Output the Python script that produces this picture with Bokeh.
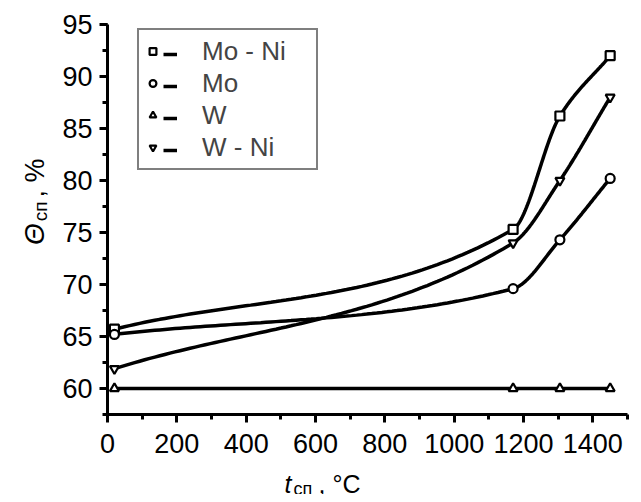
import numpy as np
from bokeh.plotting import figure
from bokeh.models import Range1d, Legend, LegendItem, SingleIntervalTicker
from bokeh.layouts import row, column
from bokeh.core.properties import value
from bokeh.embed import file_html
from bokeh.resources import INLINE

# data
temps = [20, 1170, 1305, 1450]
mo_ni = [65.7, 75.3, 86.2, 92.0]
mo = [65.2, 69.6, 74.3, 80.2]
w = [60.0, 60.0, 60.0, 60.0]
w_ni = [61.9, 74.0, 80.0, 88.0]
series_names = ["Mo - Ni", "Mo", "W", "W - Ni"]
markers = ["square", "circle", "triangle", "inverted_triangle"]

X0, X1, Y0, Y1 = 0, 1500, 57.5, 95


def smooth_curve(xs, ys, n=80):
    """Cubic Hermite curve through the points (PCHIP-style slopes)."""
    x = np.asarray(xs, float)
    y = np.asarray(ys, float)
    h = np.diff(x)
    dl = np.diff(y) / h
    m = len(x)
    d = np.zeros(m)
    for i in range(1, m - 1):
        if dl[i - 1] * dl[i] > 0:
            w1 = 2 * h[i] + h[i - 1]
            w2 = h[i] + 2 * h[i - 1]
            d[i] = (w1 + w2) / (w1 / dl[i - 1] + w2 / dl[i])
    d[0] = dl[0]
    d[-1] = dl[-1]
    xx_all, yy_all = [x[0]], [y[0]]
    t = np.linspace(0, 1, n)[1:]
    for i in range(m - 1):
        h00 = 2 * t**3 - 3 * t**2 + 1
        h10 = t**3 - 2 * t**2 + t
        h01 = -2 * t**3 + 3 * t**2
        h11 = t**3 - t**2
        yy = h00 * y[i] + h10 * h[i] * d[i] + h01 * y[i + 1] + h11 * h[i] * d[i + 1]
        xx_all.extend(x[i] + t * h[i])
        yy_all.extend(yy)
    return np.array(xx_all), np.array(yy_all)


FONT = "Liberation Sans"
LEFT_W = 50   # width of the y-title strip
TOP_H = 460   # height of the main row
TOTAL_W, TOTAL_H = 633, 494

p = figure(width=TOTAL_W - LEFT_W, height=TOP_H, output_backend="svg",
           toolbar_location=None, title=None,
           x_range=Range1d(X0, X1), y_range=Range1d(Y0, Y1))
p.min_border_left = 107 - LEFT_W
p.min_border_top = 24
p.min_border_bottom = 46
p.min_border_right = 6
p.outline_line_color = None
p.xgrid.visible = False
p.ygrid.visible = False

for ax in (p.xaxis[0], p.yaxis[0]):
    ax.axis_line_width = 3
    ax.axis_line_color = "black"
    ax.major_tick_line_width = 3
    ax.minor_tick_line_width = 3
    ax.major_tick_in = 0
    ax.major_tick_out = 8
    ax.minor_tick_in = 0
    ax.minor_tick_out = 5
    ax.major_label_text_font = FONT
    ax.major_label_text_font_size = "27px"
    ax.major_label_text_color = "black"
p.xaxis[0].major_label_standoff = 11
p.yaxis[0].major_label_standoff = 7

p.xaxis[0].ticker = SingleIntervalTicker(interval=200, num_minor_ticks=2)
p.yaxis[0].ticker = SingleIntervalTicker(interval=5, num_minor_ticks=2)

items_mk = []
items_ln = []
for name, mk, ys in zip(series_names, markers, [mo_ni, mo, w, w_ni]):
    xx, yy = smooth_curve(temps, ys)
    ln = p.line(xx, yy, line_color="black", line_width=3.5)
    sc = p.scatter(temps, ys, marker=mk, size=9, line_color="black",
                   line_width=2.2, fill_color="white")
    items_mk.append(LegendItem(label=name, renderers=[sc]))
    items_ln.append(LegendItem(label="", renderers=[ln]))

common = dict(glyph_height=32, label_height=32, spacing=0, padding=5, margin=0,
              label_text_font=FONT, label_text_font_size="26px")
legend_a = Legend(items=items_mk, location=(30, 244), border_line_color="black",
                  border_line_width=2, glyph_width=17,
                  label_standoff=41, label_width=109,
                  background_fill_alpha=1, **common)
legend_b = Legend(items=items_ln, location=(56, 248), border_line_color=None,
                  background_fill_alpha=0, glyph_width=14, label_standoff=0,
                  label_width=0, **common)
p.add_layout(legend_a, "center")
p.add_layout(legend_b, "center")

# y-axis title strip (left of the main figure)
fy = figure(width=LEFT_W, height=TOP_H, output_backend="svg", toolbar_location=None,
            title=None, x_axis_type=None, y_axis_type=None,
            x_range=Range1d(0, LEFT_W), y_range=Range1d(0, TOP_H), min_border=0)
fy.grid.visible = False
fy.outline_line_color = None
fy.text(x=[34], y=[TOP_H - 260], text=["Θ"], angle=np.pi / 2, text_font=value(FONT),
        text_font_style="italic", text_font_size="28px", text_baseline="alphabetic",
        text_color="black")
fy.text(x=[40], y=[TOP_H - 232], text=["сп"], angle=np.pi / 2, text_font=value(FONT),
        text_font_size="19px", text_baseline="alphabetic", text_color="black")
fy.text(x=[34], y=[TOP_H - 204], text=[", %"], angle=np.pi / 2, text_font=value(FONT),
        text_font_size="27px", text_baseline="alphabetic", text_color="black")

# x-axis title strip (full width, under everything)
BOT_H = TOTAL_H - TOP_H
fx = figure(width=TOTAL_W, height=BOT_H, output_backend="svg", toolbar_location=None,
            title=None, x_axis_type=None, y_axis_type=None,
            x_range=Range1d(0, TOTAL_W), y_range=Range1d(0, BOT_H), min_border=0)
fx.grid.visible = False
fx.outline_line_color = None
fx.text(x=[284], y=[11], text=["t"], text_font=value(FONT),
        text_font_style="italic", text_font_size="25px",
        text_baseline="alphabetic", text_color="black")
fx.text(x=[293], y=[6], text=["сп"], text_font=value(FONT),
        text_font_size="18px", text_baseline="alphabetic", text_color="black")
fx.text(x=[318], y=[11], text=[", °C"], text_font=value(FONT),
        text_font_size="25px", text_baseline="alphabetic", text_color="black")

layout = column(row(fy, p, spacing=0), fx, spacing=0)

open("out.html", "w").write(file_html(layout, INLINE))
